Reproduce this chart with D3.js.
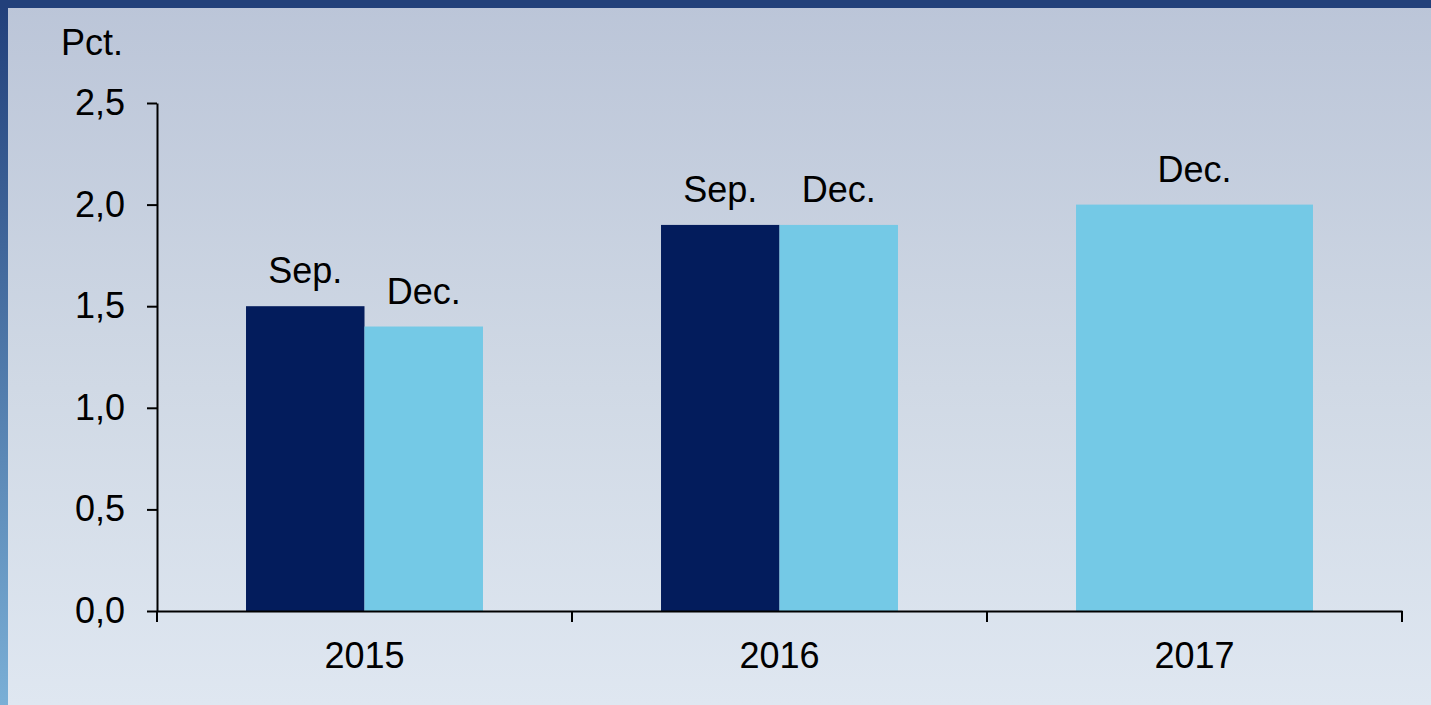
<!DOCTYPE html>
<html>
<head>
<meta charset="utf-8">
<script src="https://cdn.jsdelivr.net/npm/d3@7"></script>
<style>
  html, body { margin: 0; padding: 0; overflow: hidden; }
  body { width: 1431px; height: 705px; }
  svg text { font-family: Arial, "Liberation Sans", sans-serif; fill: #000; }
</style>
</head>
<body>
<div id="chart"></div>
<script>
// data
var years = ['2015', '2016', '2017'];
var series = ['Sep.', 'Dec.'];
var sepValues = [1.5, 1.9, null];
var decValues = [1.4, 1.9, 2.0];
var yTicks = [0, 0.5, 1.0, 1.5, 2.0, 2.5];
var unitLabel = 'Pct.';

var width = 1431, height = 705;
var plotLeft = 157, plotRight = 1402, plotTop = 103, plotBottom = 611;
var colors = {'Sep.': '#031c5c', 'Dec.': '#74c9e6'};

var svg = d3.select('#chart').append('svg')
    .attr('width', width)
    .attr('height', height);

var defs = svg.append('defs');
var bg = defs.append('linearGradient').attr('id', 'bg')
    .attr('x1', 0).attr('y1', 0).attr('x2', 0).attr('y2', 1);
bg.append('stop').attr('offset', '0%').attr('stop-color', '#bbc5d8');
bg.append('stop').attr('offset', '55%').attr('stop-color', '#d0d9e5');
bg.append('stop').attr('offset', '100%').attr('stop-color', '#dfe7f1');
var side = defs.append('linearGradient').attr('id', 'side')
    .attr('x1', 0).attr('y1', 0).attr('x2', 0).attr('y2', 1);
side.append('stop').attr('offset', '0%').attr('stop-color', '#213f7a');
side.append('stop').attr('offset', '100%').attr('stop-color', '#7aafd6');

svg.append('rect').attr('width', width).attr('height', height).attr('fill', 'url(#bg)');
svg.append('rect').attr('width', 8).attr('height', height).attr('fill', 'url(#side)');
svg.append('rect').attr('width', width).attr('height', 8).attr('fill', '#22407a');

var x = d3.scaleBand()
    .domain(years)
    .range([plotLeft, plotRight])
    .paddingInner(0.429)
    .paddingOuter(0.2145);

var y = d3.scaleLinear()
    .domain([0, 2.5])
    .range([plotBottom, plotTop]);

var locale = d3.formatLocale({decimal: ',', thousands: '.', grouping: [3], currency: ['', '']});
var fmt = locale.format('.1f');

// rows: one per year, only the series that exist
var rows = years.map(function(yr, i) {
    var bars = [];
    if (sepValues[i] != null) bars.push({key: 'Sep.', value: sepValues[i]});
    if (decValues[i] != null) bars.push({key: 'Dec.', value: decValues[i]});
    return {year: yr, bars: bars};
});

var groups = svg.append('g').selectAll('g')
    .data(rows)
    .enter().append('g')
    .attr('transform', function(d) { return 'translate(' + x(d.year) + ',0)'; });

groups.each(function(d) {
    var inner = d3.scaleBand()
        .domain(d.bars.map(function(b) { return b.key; }))
        .range([0, x.bandwidth()]);
    var g = d3.select(this);
    g.selectAll('rect')
        .data(d.bars)
        .enter().append('rect')
        .attr('x', function(b) { return inner(b.key); })
        .attr('y', function(b) { return y(b.value); })
        .attr('width', inner.bandwidth())
        .attr('height', function(b) { return y(0) - y(b.value); })
        .attr('fill', function(b) { return colors[b.key]; });
    g.selectAll('text')
        .data(d.bars)
        .enter().append('text')
        .attr('x', function(b) { return inner(b.key) + inner.bandwidth() / 2; })
        .attr('y', function(b) { return y(b.value) - 23; })
        .attr('text-anchor', 'middle')
        .style('font-size', '36px')
        .text(function(b) { return b.key; });
});

// y axis
var yAxis = svg.append('g')
    .attr('transform', 'translate(' + plotLeft + ',0)')
    .call(d3.axisLeft(y).tickValues(yTicks).tickFormat(fmt).tickSize(10).tickSizeOuter(0).tickPadding(22));
yAxis.select('.domain').attr('stroke', '#000').attr('stroke-width', 2);
yAxis.selectAll('.tick line').attr('stroke', '#000').attr('stroke-width', 2);
yAxis.selectAll('.tick text')
    .style('font-size', '36px')
    .style('font-family', 'Arial, "Liberation Sans", sans-serif')
    .attr('fill', '#000');

// x axis: tick marks on the category boundaries, labels in the middle
var xAxis = svg.append('g')
    .attr('transform', 'translate(0,' + plotBottom + ')')
    .call(d3.axisBottom(x).tickSize(0).tickSizeOuter(0).tickPadding(31));
xAxis.select('.domain').attr('stroke', '#000').attr('stroke-width', 2);
xAxis.selectAll('.tick text')
    .style('font-size', '36px')
    .style('font-family', 'Arial, "Liberation Sans", sans-serif')
    .attr('fill', '#000');

var step = x.step();
var edges = years.map(function(yr) { return x(yr) - step * x.paddingInner() / 2; });
edges.push(edges[edges.length - 1] + step);
xAxis.selectAll('line.edge')
    .data(edges)
    .enter().append('line')
    .attr('class', 'edge')
    .attr('x1', function(d) { return d; })
    .attr('x2', function(d) { return d; })
    .attr('y1', 0)
    .attr('y2', 11)
    .attr('stroke', '#000')
    .attr('stroke-width', 2);

svg.append('text')
    .attr('x', 61)
    .attr('y', 55)
    .style('font-size', '36px')
    .text(unitLabel);
</script>
</body>
</html>
